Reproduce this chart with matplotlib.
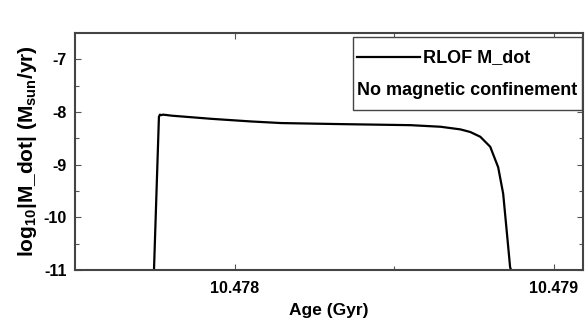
import matplotlib
matplotlib.use("Agg")
import matplotlib.pyplot as plt
from matplotlib.patches import Rectangle
from matplotlib.lines import Line2D
from matplotlib.ticker import FixedLocator, FuncFormatter

FONT = ["Liberation Sans", "DejaVu Sans"]
plt.rcParams["font.family"] = FONT
plt.rcParams["font.weight"] = "bold"
plt.rcParams["mathtext.fontset"] = "custom"
plt.rcParams["mathtext.rm"] = "Liberation Sans:bold"
plt.rcParams["mathtext.default"] = "rm"

# RLOF mass-transfer rate versus age
age_gyr = [10.4777477, 10.4777632, 10.4777664, 10.4777700, 10.4777760,
           10.4778037, 10.4778660, 10.4779283, 10.4780530, 10.4781464,
           10.4783333, 10.4785514, 10.4786449, 10.4787072, 10.4787383,
           10.4787695, 10.4788006, 10.4788255, 10.4788411, 10.4788536,
           10.4788629, 10.4788660]
log_mdot = [-11.0, -8.09, -8.05, -8.06, -8.05,
            -8.07, -8.10, -8.13, -8.18, -8.21,
            -8.23, -8.25, -8.28, -8.33, -8.38,
            -8.47, -8.66, -9.05, -9.55, -10.35,
            -10.95, -11.0]

x_major = [10.478, 10.479]
x_minor = [10.4785]
y_major = [-11, -10, -9, -8, -7]
y_minor = [-10.5, -9.5, -8.5, -7.5]

fig = plt.figure(figsize=(5.85, 3.33), dpi=100)
ax = fig.add_axes([0.128, 0.189, 0.868, 0.712])

ax.plot(age_gyr, log_mdot, color="black", lw=1.6)

ax.set_xlim(10.4775, 10.47909)
ax.set_ylim(-11, -6.5)
ax.xaxis.set_major_locator(FixedLocator(x_major))
ax.xaxis.set_minor_locator(FixedLocator(x_minor))
ax.yaxis.set_major_locator(FixedLocator(y_major))
ax.yaxis.set_minor_locator(FixedLocator(y_minor))
ax.xaxis.set_major_formatter(FuncFormatter(lambda v, p: f"{v:.3f}"))
ax.yaxis.set_major_formatter(FuncFormatter(lambda v, p: f"{v:.0f}".replace("\u2212", "-")))

ax.tick_params(which="both", direction="in", top=True, right=True,
               color="#555555", width=0.8)
ax.tick_params(which="major", length=4, labelsize=11.5)
ax.tick_params(which="minor", length=3)
ax.tick_params(axis="x", pad=8)
ax.tick_params(axis="y", pad=6)
for lab in ax.get_xticklabels() + ax.get_yticklabels():
    lab.set_fontweight("bold")

for s in ax.spines.values():
    s.set_color("#444444")
    s.set_linewidth(1.5)

ax.set_xlabel("Age (Gyr)", fontsize=12.5, fontweight="bold", labelpad=5)
ax.set_ylabel(r"log$_{10}$|M_dot| (M$_{\mathrm{sun}}$/yr)", fontsize=15,
              fontweight="bold", labelpad=3)

# legend box drawn by hand so the second line can start at the box edge
ax.add_patch(Rectangle((0.547, 0.675), 0.451, 0.308, transform=ax.transAxes,
                       facecolor="white", edgecolor="#444444", lw=1.0, zorder=5))
ax.add_line(Line2D([0.555, 0.68], [0.898, 0.898], transform=ax.transAxes,
                   color="black", lw=1.6, zorder=6))
ax.text(0.686, 0.898, "RLOF M_dot", transform=ax.transAxes, fontsize=13,
        fontweight="bold", va="center", ha="left", zorder=6)
ax.text(0.773, 0.757, "No magnetic confinement", transform=ax.transAxes,
        fontsize=13, fontweight="bold", va="center", ha="center", zorder=6)

fig.savefig("out.png", dpi=100, facecolor="white")
